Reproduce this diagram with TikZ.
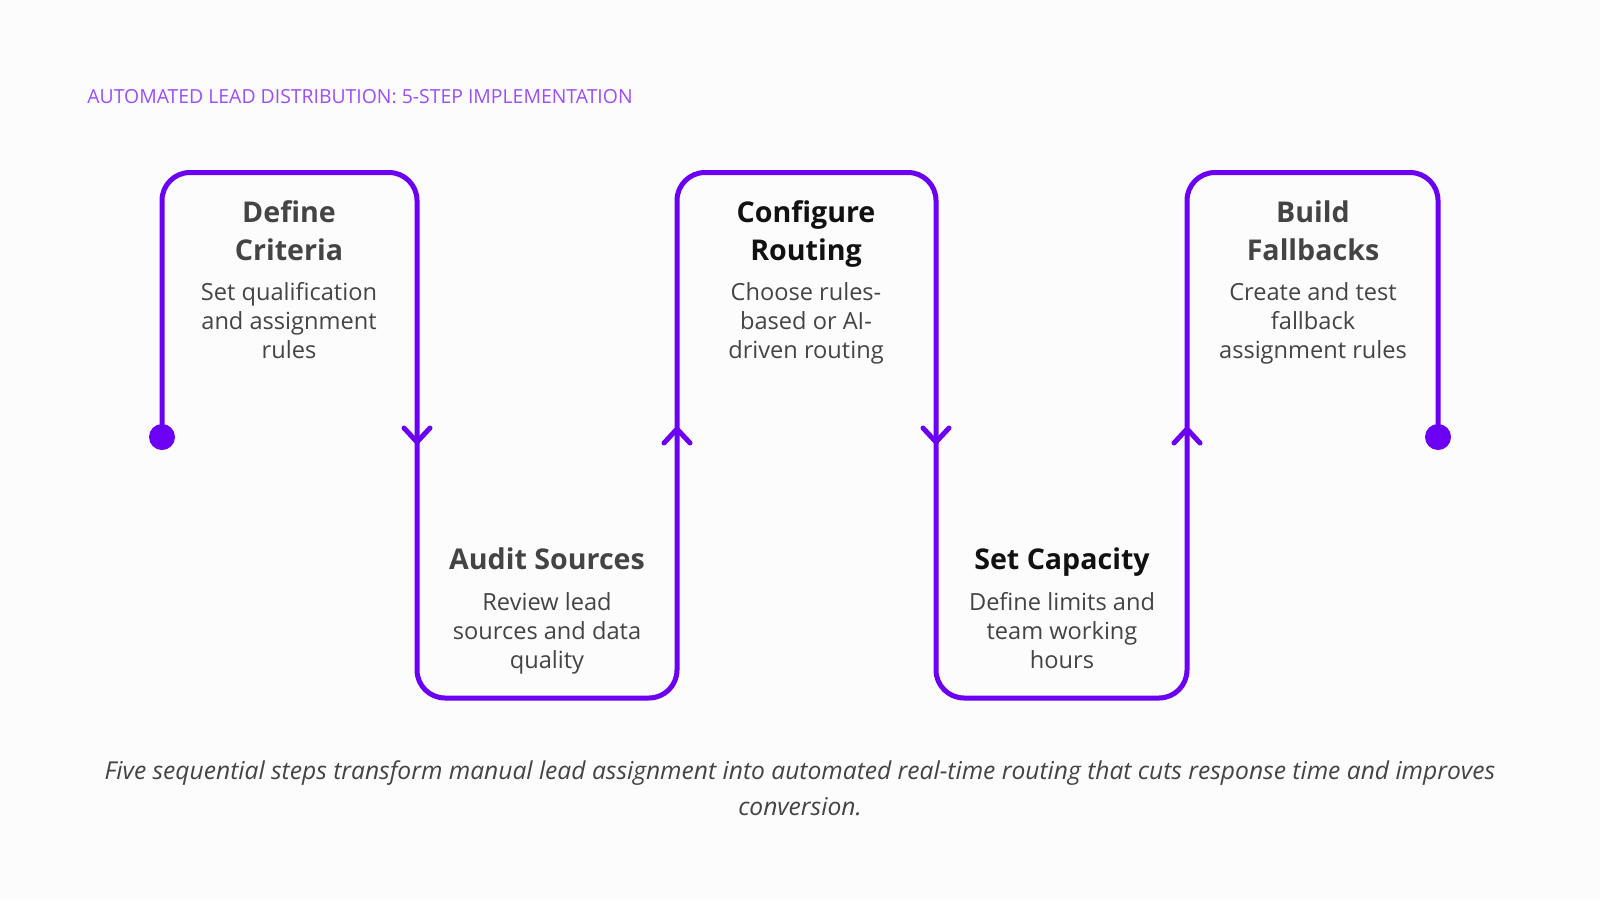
\documentclass[tikz,border=0pt]{standalone}
\usepackage{fontspec}
\setmainfont{Open Sans}
\usepackage{tikz}
\usetikzlibrary{arrows.meta,calc}
\usetikzlibrary{positioning}
\usepackage{xcolor}

\definecolor{lanepurple}{HTML}{6B00F5}
\definecolor{headpurple}{HTML}{9B4DFF}
\definecolor{textgray}{HTML}{444444}
\definecolor{textblack}{HTML}{111111}
\definecolor{paper}{HTML}{FCFCFC}

\begin{document}
\begin{tikzpicture}[
    x=0.5pt, y=-0.5pt,
    lane/.style={draw=lanepurple, line width=2.5pt, line cap=round, line join=round},
    enddot/.style={circle, fill=lanepurple, inner sep=0pt, minimum size=13pt},
    steptitle/.style={align=center, text=textgray, inner sep=0pt, anchor=base,
                      font=\fontsize{14.3}{18.9}\selectfont\bfseries},
    stepbody/.style={align=center, text=textgray, inner sep=0pt, anchor=base,
                     font=\fontsize{11.8}{14.3}\selectfont}
  ]

  % ── fundo ───────────────────────────────────────────────────────
  \fill[paper] (0,0) rectangle (1600,900);
  \useasboundingbox (0,0) rectangle (1600,900);

  % ── título ──────────────────────────────────────────────────────
  \node[anchor=west, text=headpurple, inner sep=0pt,
        font=\fontsize{9.7}{10}\selectfont] (head) at (87,97)
    {AUTOMATED LEAD DISTRIBUTION: 5-STEP IMPLEMENTATION};

  % ── pontos da trilha ────────────────────────────────────────────
  \foreach \x [count=\i from 0] in {162,417,677,936,1187,1438} {
    \coordinate (t\i) at (\x,172.5);
    \coordinate (b\i) at (\x,698);
  }
  \node[enddot] (start) at (162,437) {};
  \node[enddot] (end)   at (1438,437) {};

  % ── trilha contínua ─────────────────────────────────────────────
  \draw[lane, rounded corners=14pt]
    (start.center) -- (t0) -- (t1) -- (b1) -- (b2) -- (t2) -- (t3)
    -- (b3) -- (b4) -- (t4) -- (t5) -- (end.center);

  % ── setas ───────────────────────────────────────────────────────
  \coordinate (m1) at (417,442);
  \coordinate (m2) at (677,429);
  \coordinate (m3) at (936,442);
  \coordinate (m4) at (1187,429);
  \foreach \m in {m1,m3}
    \draw[lane] ($(\m)+(-13,-14)$) -- (\m) -- ($(\m)+(13,-14)$);
  \foreach \m in {m2,m4}
    \draw[lane] ($(\m)+(-13,14)$) -- (\m) -- ($(\m)+(13,14)$);

  % ── etapas (base = última linha) ────────────────────────────────
  \node[steptitle] (crit) at (289,260) {Define\\Criteria};
  \node[stepbody]  (critb) at (289,358) {Set qualification\\and assignment\\rules};

  \node[steptitle] (audit) at (547,569) {Audit Sources};
  \node[stepbody]  (auditb) at (547,668) {Review lead\\sources and data\\quality};

  \node[steptitle, text=textblack] (rout) at (806,260) {Configure\\Routing};
  \node[stepbody]  (routb) at (806,358) {Choose rules-\\based or AI-\\driven routing};

  \node[steptitle, text=textblack] (cap) at (1062,569) {Set Capacity};
  \node[stepbody]  (capb) at (1062,668) {Define limits and\\team working\\hours};

  \node[steptitle] (fall) at (1313,260) {Build\\Fallbacks};
  \node[stepbody]  (fallb) at (1313,358) {Create and test\\fallback\\assignment rules};

  % ── nota final ──────────────────────────────────────────────────
  \node[align=center, text=textgray, inner sep=0pt,
        font=\fontsize{12.3}{18}\selectfont\itshape] (note) at (800,788)
    {Five sequential steps transform manual lead assignment into automated real-time routing that cuts response time and improves\\conversion.};

\end{tikzpicture}
\end{document}
